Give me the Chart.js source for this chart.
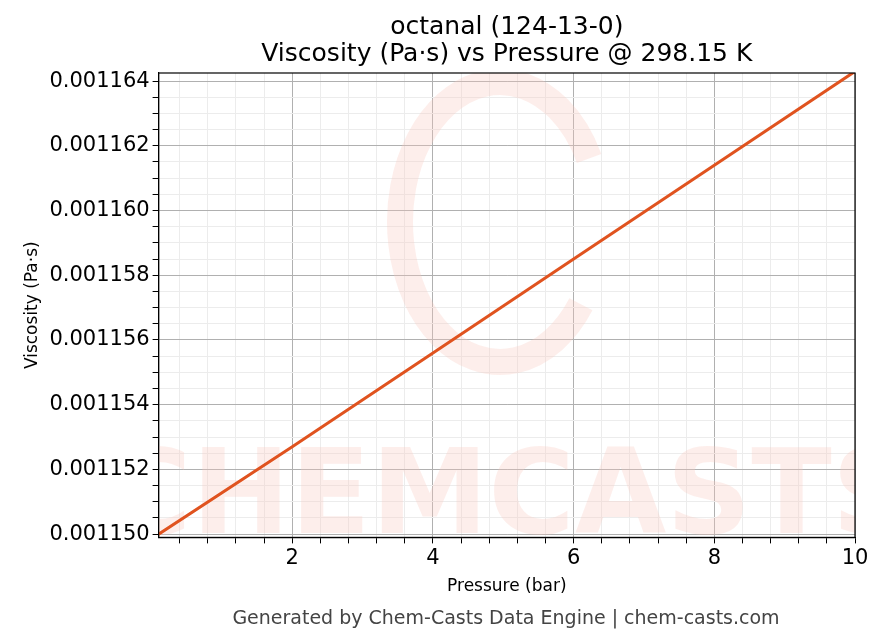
<!DOCTYPE html>
<html>
<head>
<meta charset="utf-8">
<script src="https://cdn.jsdelivr.net/npm/chart.js@4"></script>
<style>
  html, body { margin: 0; padding: 0; background: #fff; }
  #wrap { width: 883px; height: 644px; }
</style>
</head>
<body>
<div id="wrap"><canvas id="chart" width="883" height="644"></canvas></div>
<script>
// Data
const pressure = [0.1, 2, 4, 6, 8, 10];
const viscosity = [0.0011500, 0.0011527, 0.0011556, 0.0011585, 0.0011614, 0.0011643];
const xMajorTicks = [2, 4, 6, 8, 10];
const yMajorTicks = [0.001150, 0.001152, 0.001154, 0.001156, 0.001158, 0.001160, 0.001162, 0.001164];
const titleLines = ['octanal (124-13-0)', 'Viscosity (Pa·s) vs Pressure @ 298.15 K'];

const FONT = 'DejaVu Sans';
Chart.defaults.font.family = FONT;
Chart.defaults.color = '#000';

function isMajor(v, majors) {
    return majors.some(m => Math.abs(m - v) < 1e-9);
}

// watermark, frame, centred title and footer
const extras = {
    id: 'extras',
    beforeDatasetsDraw(chart) {
        const { ctx, chartArea: a } = chart;
        ctx.save();
        ctx.beginPath();
        ctx.rect(a.left, a.top, a.right - a.left, a.bottom - a.top);
        ctx.clip();
        ctx.fillStyle = 'rgba(250, 200, 190, 0.3)';
        ctx.font = 'bold 118px ' + FONT;
        ctx.textAlign = 'center';
        ctx.fillText('CHEMCASTS', (a.left + a.right) / 2 + 4, a.bottom - 4);
        ctx.strokeStyle = 'rgba(250, 200, 190, 0.3)';
        ctx.lineWidth = 26;
        ctx.beginPath();
        ctx.ellipse(500, 222, 100, 140, 0, 0.2 * Math.PI, 1.85 * Math.PI);
        ctx.stroke();
        ctx.restore();
    },
    afterDraw(chart) {
        const { ctx, chartArea: a } = chart;
        const cx = (a.left + a.right) / 2;
        ctx.save();
        ctx.strokeStyle = '#000';
        ctx.lineWidth = 1.2;
        ctx.strokeRect(a.left, a.top, a.right - a.left, a.bottom - a.top);
        ctx.fillStyle = '#000';
        ctx.font = '25px ' + FONT;
        ctx.textAlign = 'center';
        ctx.textBaseline = 'middle';
        ctx.fillText(titleLines[0], cx, 27);
        ctx.fillText(titleLines[1], cx, 54);
        ctx.fillStyle = '#444';
        ctx.font = '19px ' + FONT;
        ctx.fillText('Generated by Chem-Casts Data Engine | chem-casts.com', 506, 619);
        ctx.restore();
    }
};

new Chart(document.getElementById('chart'), {
    type: 'line',
    data: {
        datasets: [{
            data: pressure.map((p, i) => ({ x: p, y: viscosity[i] })),
            borderColor: '#e0531f',
            borderWidth: 3,
            pointRadius: 0,
            tension: 0
        }]
    },
    options: {
        responsive: false,
        animation: false,
        layout: { padding: { left: 18, right: 28, top: 73, bottom: 43 } },
        plugins: {
            legend: { display: false },
            tooltip: { enabled: false },
            title: { display: false }
        },
        scales: {
            x: {
                type: 'linear',
                min: 0.1,
                max: 10,
                afterBuildTicks(axis) {
                    const t = [];
                    for (let i = 1; i <= 25; i++) t.push({ value: +(i * 0.4).toFixed(2) });
                    axis.ticks = t;
                },
                ticks: {
                    autoSkip: false,
                    maxRotation: 0,
                    font: { size: 21 },
                    callback: v => isMajor(v, xMajorTicks) ? String(v) : ''
                },
                grid: {
                    color: c => isMajor(c.tick.value, xMajorTicks) ? '#b0b0b0' : '#ececec',
                    tickColor: '#000',
                    tickLength: 6
                },
                border: { color: '#000', width: 1.2 },
                title: { display: true, text: 'Pressure (bar)', font: { size: 17 }, padding: { top: 2 } }
            },
            y: {
                type: 'linear',
                min: 0.0011499,
                max: 0.00116425,
                afterBuildTicks(axis) {
                    const t = [];
                    for (let i = 0; i <= 28; i++) t.push({ value: 0.001150 + i * 0.0000005 });
                    axis.ticks = t;
                },
                ticks: {
                    autoSkip: false,
                    font: { size: 21 },
                    callback: v => isMajor(v, yMajorTicks) ? v.toFixed(6) : ''
                },
                grid: {
                    color: c => isMajor(c.tick.value, yMajorTicks) ? '#b0b0b0' : '#ececec',
                    tickColor: '#000',
                    tickLength: 6
                },
                border: { color: '#000', width: 1.2 },
                title: { display: true, text: 'Viscosity (Pa·s)', font: { size: 17 }, padding: { bottom: 4 } }
            }
        }
    },
    plugins: [extras]
});
</script>
</body>
</html>
